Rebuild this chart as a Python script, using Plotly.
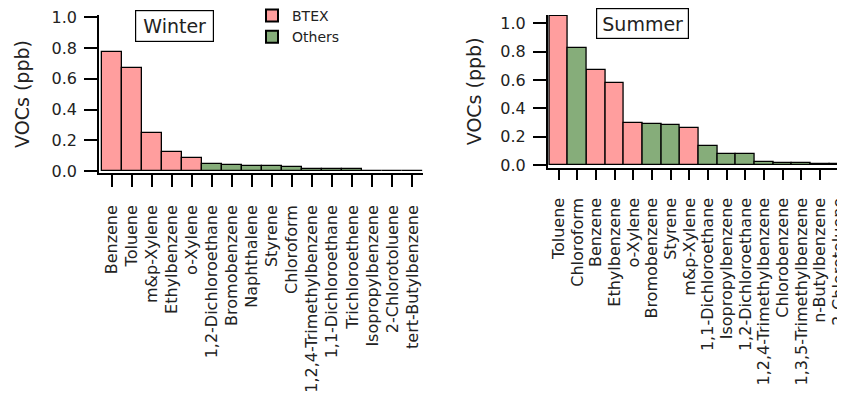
import plotly.graph_objects as go

# ---------------- data ----------------
winter_categories = ["Benzene", "Toluene", "m&p-Xylene", "Ethylbenzene", "o-Xylene",
                     "1,2-Dichloroethane", "Bromobenzene", "Naphthalene", "Styrene", "Chloroform",
                     "1,2,4-Trimethylbenzene", "1,1-Dichloroethane", "Trichloroethene",
                     "Isopropylbenzene", "2-Chlorotoluene", "tert-Butylbenzene"]
winter_values = [0.775, 0.672, 0.250, 0.124, 0.087,
                 0.048, 0.042, 0.035, 0.031, 0.026,
                 0.012, 0.011, 0.010,
                 0.002, 0.001, 0.001]
winter_groups = ["BTEX"] * 5 + ["Others"] * 11

summer_categories = ["Toluene", "Chloroform", "Benzene", "Ethylbenzene", "o-Xylene",
                     "Bromobenzene", "Styrene", "m&p-Xylene", "1,1-Dichloroethane",
                     "Isopropylbenzene", "1,2-Dichloroethane", "1,2,4-Trimethylbenzene",
                     "Chlorobenzene", "1,3,5-Trimethylbenzene", "n-Butylbenzene", "2-Chlorotoluene"]
summer_values = [1.054, 0.824, 0.673, 0.581, 0.294,
                 0.287, 0.282, 0.259, 0.134,
                 0.075, 0.075, 0.024,
                 0.013, 0.012, 0.008, 0.004]
summer_groups = ["BTEX", "Others", "BTEX", "BTEX", "BTEX",
                 "Others", "Others", "BTEX", "Others",
                 "Others", "Others", "Others",
                 "Others", "Others", "Others", "Others"]

group_colors = {"BTEX": "#FF9E9E", "Others": "#86AD7A"}
y_ticks = [0.0, 0.2, 0.4, 0.6, 0.8, 1.0]

FONT = "DejaVu Sans"
TXT = "#222222"

fig = go.Figure()

def add_season(cats, vals, groups, xa, ya, show_legend):
    for g in ["BTEX", "Others"]:
        xs = [c for c, gg in zip(cats, groups) if gg == g]
        ys = [v for v, gg in zip(vals, groups) if gg == g]
        fig.add_trace(go.Bar(
            x=xs, y=ys, name=g, legendgroup=g, showlegend=show_legend,
            xaxis=xa, yaxis=ya, width=1.0,
            marker=dict(color=group_colors[g], line=dict(color="black", width=1.3)),
        ))

add_season(winter_categories, winter_values, winter_groups, "x", "y", True)
add_season(summer_categories, summer_values, summer_groups, "x2", "y2", False)

# page body has an 8px margin -> work in page pixels and shift
OFF = 8
W, H = 845 - OFF, 396 - OFF
mt, mb = 15 - OFF, 223
ph = H - mt - mb

def px_x(p):
    return (p - OFF) / W

def px_y(p):
    return (H - mb - (p - OFF)) / ph

axis_common = dict(showline=True, linecolor="black", linewidth=1.5, showgrid=False,
                   zeroline=False, ticks="outside", tickcolor="black", tickwidth=1.5,
                   mirror=False)

fig.update_layout(
    width=W, height=H,
    margin=dict(l=0, r=0, t=mt, b=mb, autoexpand=False),
    paper_bgcolor="white", plot_bgcolor="white",
    barmode="overlay", bargap=0,
    font=dict(family=FONT, color=TXT),
    xaxis=dict(**axis_common, domain=[px_x(99), px_x(422.5)], anchor="y",
               type="category", categoryorder="array", categoryarray=winter_categories,
               tickmode="array", tickvals=winter_categories, ticktext=winter_categories,
               range=[-0.635, 15.5], ticklen=12, tickangle=-90,
               ticklabelstandoff=12, tickfont=dict(size=16, family=FONT, color=TXT)),
    yaxis=dict(**axis_common, domain=[0, 1], anchor="x", range=[-0.013, 1.0157],
               tickvals=y_ticks, tickformat=".1f", ticklen=13,
               ticklabelstandoff=4, tickfont=dict(size=16, family=FONT, color=TXT),
               title=dict(text="VOCs (ppb)", font=dict(size=19, family=FONT, color=TXT),
                          standoff=17)),
    xaxis2=dict(**axis_common, domain=[px_x(547.7), 1.0], anchor="y2",
                type="category", categoryorder="array", categoryarray=summer_categories,
                tickmode="array", tickvals=summer_categories, ticktext=summer_categories,
                range=[-0.586, 15.34], ticklen=11, tickangle=-90,
                ticklabelstandoff=11, tickfont=dict(size=16, family=FONT, color=TXT)),
    yaxis2=dict(**axis_common, domain=[px_y(167.7), 1.0], anchor="x2", range=[-0.019, 1.0586],
                tickvals=y_ticks, tickformat=".1f", ticklen=13,
                ticklabelstandoff=4, tickfont=dict(size=16, family=FONT, color=TXT),
                title=dict(text="VOCs (ppb)", font=dict(size=19, family=FONT, color=TXT),
                           standoff=14)),
    legend=dict(x=px_x(252), y=px_y(0), xanchor="left", yanchor="top",
                font=dict(size=14, family=FONT, color=TXT), bgcolor="rgba(0,0,0,0)",
                tracegroupgap=0, itemsizing="constant"),
    annotations=[
        dict(text="Winter", xref="paper", yref="paper", x=px_x(174.7), y=px_y(26.2),
             xanchor="center", yanchor="middle", showarrow=False,
             font=dict(size=19, family=FONT, color=TXT),
             bordercolor="black", borderwidth=1.2, borderpad=0, width=77, height=30,
             bgcolor="white"),
        dict(text="Summer", xref="paper", yref="paper", x=px_x(642.5), y=px_y(23.8),
             xanchor="center", yanchor="middle", showarrow=False,
             font=dict(size=19, family=FONT, color=TXT),
             bordercolor="black", borderwidth=1.2, borderpad=0, width=91, height=29,
             bgcolor="white"),
    ],
)

fig.write_html("out.html")
